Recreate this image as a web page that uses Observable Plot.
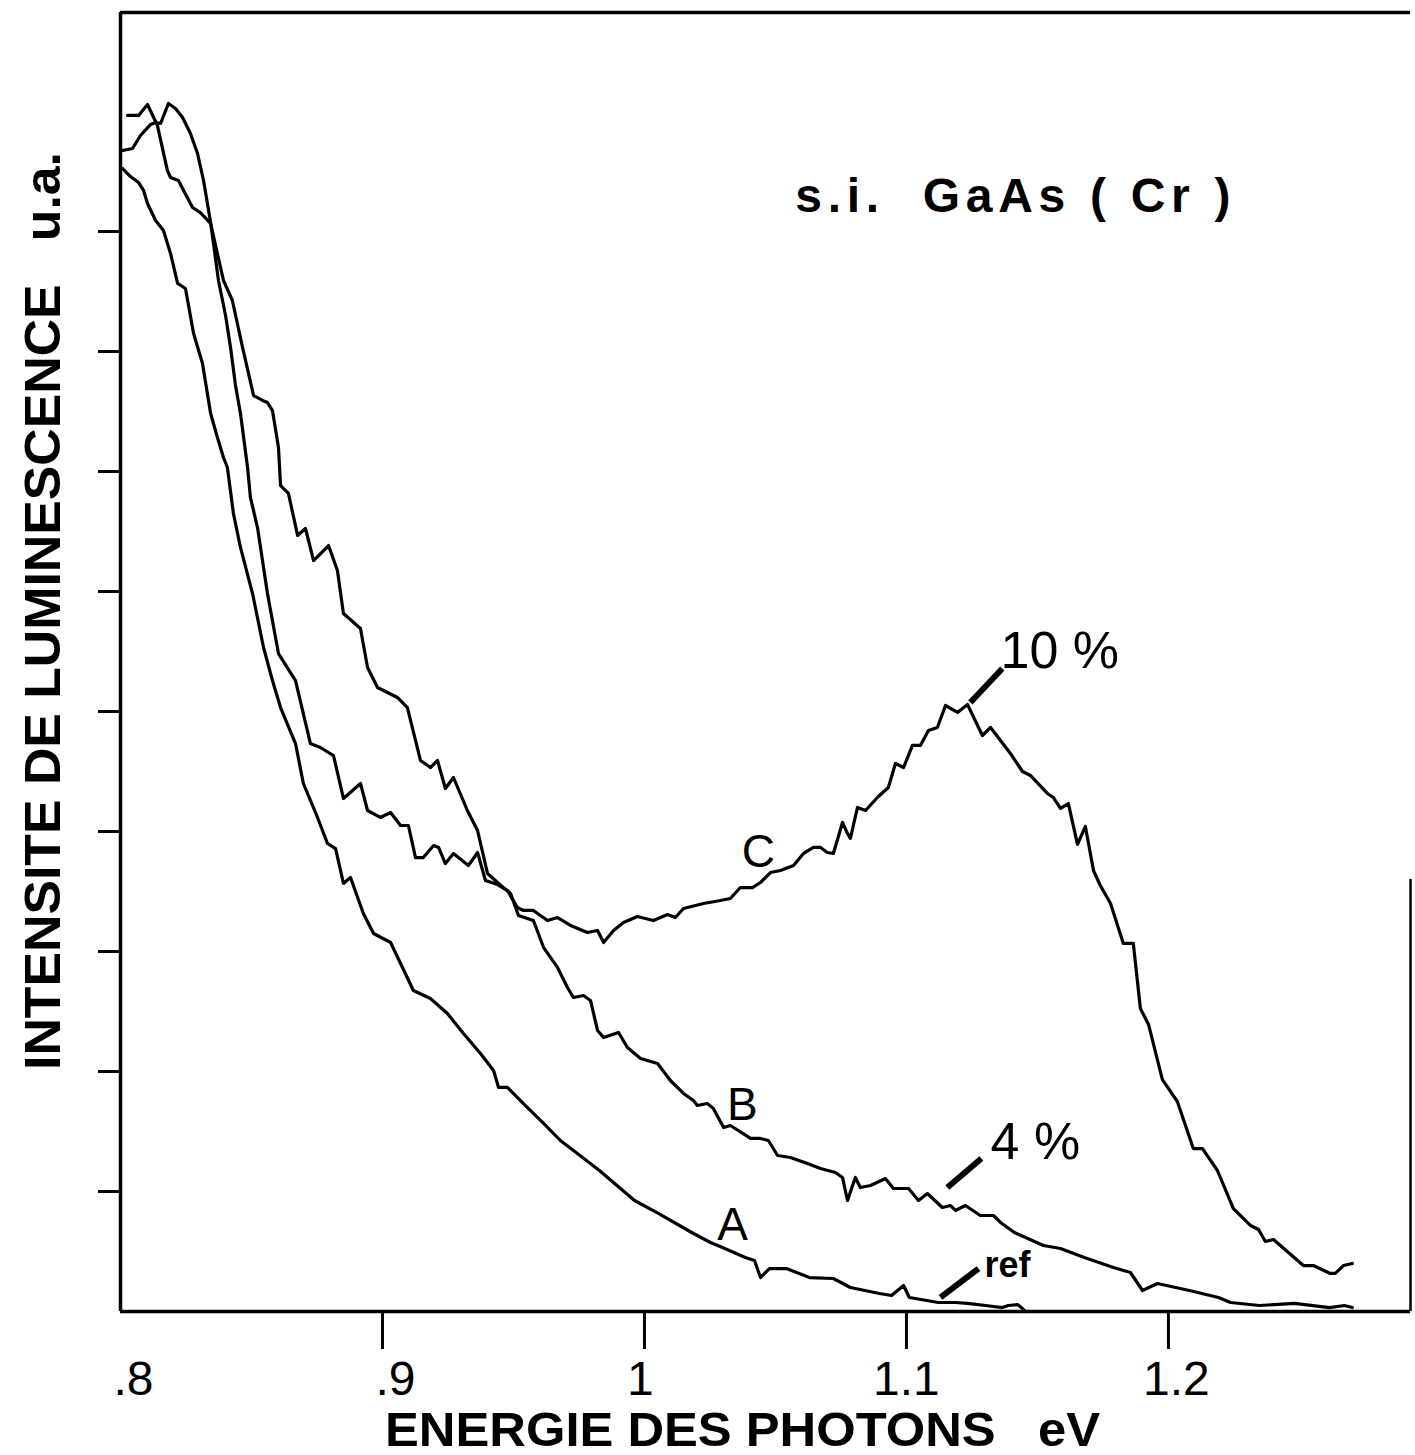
<!DOCTYPE html>
<html>
<head>
<meta charset="utf-8">
<script src="https://cdn.jsdelivr.net/npm/d3@7"></script>
<script src="https://cdn.jsdelivr.net/npm/@observablehq/plot@0.6"></script>
<style>
  html, body { margin: 0; padding: 0; background: #fff; }
  #chart svg { display: block; }
</style>
</head>
<body>
<div id="chart"></div>
<script>
// ---- Data (energy in eV, intensity in arbitrary units) ----
const energyA = [0.8008,0.8038,0.8069,0.8088,0.8103,0.8134,0.8164,0.8191,0.8218,0.8248,0.8279,0.8313,0.8344,0.8370,0.8393,0.8408,0.8431,0.8458,0.8504,0.8546,0.8580,0.8611,0.8668,0.8698,0.8752,0.8790,0.8821,0.8851,0.8878,0.8927,0.8966,0.9031,0.9069,0.9118,0.9183,0.9248,0.9309,0.9374,0.9424,0.9443,0.9477,0.9538,0.9615,0.9679,0.9744,0.9828,0.9962,1.0053,1.0187,1.0252,1.0298,1.0385,1.0420,1.0443,1.0477,1.0542,1.0630,1.0721,1.0786,1.0897,1.0943,1.0989,1.1011,1.1122,1.1187,1.1233,1.1302,1.1366,1.1389,1.1424,1.1443,1.1454];
const intensityA = [9.525,9.458,9.408,9.342,9.233,9.092,9.008,8.817,8.567,8.525,8.150,7.900,7.483,7.283,7.117,7.033,6.650,6.367,5.983,5.533,5.258,5.033,4.733,4.400,4.117,3.900,3.858,3.567,3.617,3.317,3.150,3.075,2.900,2.675,2.608,2.483,2.317,2.150,2.008,1.867,1.867,1.733,1.567,1.425,1.317,1.175,0.925,0.817,0.650,0.575,0.533,0.450,0.425,0.283,0.358,0.358,0.283,0.275,0.200,0.150,0.133,0.217,0.117,0.075,0.075,0.067,0.050,0.033,0.050,0.058,0.025,0.000];

const energyB = [0.8027,0.8069,0.8103,0.8141,0.8179,0.8191,0.8221,0.8275,0.8305,0.8344,0.8393,0.8427,0.8466,0.8508,0.8542,0.8561,0.8580,0.8603,0.8611,0.8641,0.8676,0.8706,0.8737,0.8794,0.8828,0.8851,0.8916,0.8943,0.8981,0.9057,0.9095,0.9145,0.9183,0.9210,0.9240,0.9271,0.9324,0.9363,0.9401,0.9439,0.9489,0.9519,0.9576,0.9615,0.9668,0.9706,0.9729,0.9767,0.9794,0.9821,0.9844,0.9901,0.9935,0.9985,1.0050,1.0099,1.0149,1.0187,1.0202,1.0240,1.0263,1.0302,1.0328,1.0405,1.0443,1.0473,1.0508,1.0557,1.0622,1.0672,1.0729,1.0756,1.0775,1.0805,1.0824,1.0863,1.0920,1.0950,1.1008,1.1046,1.1080,1.1137,1.1168,1.1187,1.1225,1.1282,1.1332,1.1359,1.1412,1.1523,1.1588,1.1679,1.1790,1.1855,1.1901,1.1958,1.2080,1.2191,1.2237,1.2347,1.2481,1.2615,1.2672,1.2702];
const intensityB = [9.967,9.967,10.058,9.883,9.508,9.450,9.425,9.200,9.158,9.067,8.592,8.425,8.033,7.633,7.592,7.575,7.508,7.200,6.883,6.817,6.467,6.525,6.258,6.383,6.175,5.817,5.692,5.367,5.200,5.117,5.033,4.592,4.533,4.592,4.358,4.450,4.175,4.008,3.650,3.575,3.483,3.300,3.258,3.033,2.867,2.700,2.617,2.633,2.592,2.342,2.283,2.325,2.200,2.108,2.067,1.925,1.817,1.758,1.717,1.733,1.692,1.533,1.550,1.442,1.442,1.425,1.300,1.283,1.233,1.192,1.158,1.117,0.925,1.117,1.033,1.050,1.108,1.025,1.025,0.925,0.983,0.867,0.883,0.842,0.883,0.800,0.800,0.742,0.658,0.550,0.525,0.450,0.367,0.325,0.175,0.233,0.175,0.117,0.075,0.050,0.067,0.033,0.050,0.033];

const energyC = [0.8008,0.8046,0.8076,0.8115,0.8134,0.8153,0.8183,0.8210,0.8237,0.8267,0.8294,0.8317,0.8344,0.8374,0.8401,0.8420,0.8439,0.8458,0.8485,0.8496,0.8523,0.8561,0.8603,0.8668,0.8725,0.8763,0.8813,0.8851,0.8916,0.8943,0.8992,0.9031,0.9069,0.9099,0.9126,0.9156,0.9195,0.9214,0.9240,0.9271,0.9328,0.9363,0.9393,0.9439,0.9477,0.9515,0.9538,0.9576,0.9630,0.9668,0.9718,0.9782,0.9821,0.9844,0.9882,0.9920,0.9973,1.0034,1.0088,1.0118,1.0149,1.0225,1.0290,1.0328,1.0366,1.0412,1.0443,1.0481,1.0519,1.0569,1.0607,1.0645,1.0672,1.0698,1.0721,1.0756,1.0775,1.0786,1.0813,1.0844,1.0889,1.0931,1.0958,1.0989,1.1023,1.1053,1.1084,1.1118,1.1149,1.1195,1.1233,1.1290,1.1321,1.1397,1.1443,1.1473,1.1538,1.1561,1.1588,1.1618,1.1653,1.1683,1.1714,1.1740,1.1779,1.1828,1.1866,1.1893,1.1924,1.1977,1.2034,1.2095,1.2130,1.2187,1.2248,1.2313,1.2344,1.2370,1.2401,1.2515,1.2553,1.2618,1.2637,1.2668,1.2702];
const intensityC = [9.675,9.692,9.800,9.892,9.908,9.900,10.067,10.025,9.950,9.817,9.650,9.425,9.075,8.592,8.300,8.033,7.717,7.483,7.033,6.783,6.533,5.983,5.483,5.258,4.733,4.700,4.633,4.275,4.400,4.175,4.117,4.158,4.050,4.050,3.783,3.783,3.883,3.867,3.733,3.817,3.717,3.825,3.592,3.558,3.508,3.367,3.342,3.342,3.258,3.283,3.217,3.158,3.175,3.075,3.175,3.242,3.292,3.258,3.308,3.283,3.358,3.400,3.425,3.442,3.533,3.533,3.575,3.658,3.675,3.717,3.817,3.867,3.867,3.825,3.817,4.075,3.983,3.942,4.200,4.175,4.283,4.367,4.567,4.533,4.717,4.717,4.842,4.867,5.050,4.992,5.058,4.800,4.867,4.650,4.500,4.467,4.317,4.283,4.192,4.233,3.892,4.042,3.675,3.550,3.400,3.067,3.067,2.525,2.392,1.933,1.750,1.358,1.358,1.175,0.858,0.717,0.683,0.583,0.600,0.383,0.383,0.317,0.317,0.383,0.400];

// axes
const xTicks = [0.8, 0.9, 1.0, 1.1, 1.2];
const xTickLabels = [".8", ".9", "1", "1.1", "1.2"];
const xTickMarks = [0.9, 1.0, 1.1, 1.2];
const yTicks = [1, 2, 3, 4, 5, 6, 7, 8, 9];
const xDomain = [0.8, 1.2924];
const yDomain = [0, 10.825];
const rightEdgeTop = [3.6]; // visible extent of the right border in the scan

// texts
const chartTitle = "s.i.\u00A0\u00A0GaAs\u00A0(\u00A0Cr\u00A0)";
const xTitle = "ENERGIE DES PHOTONS\u00A0\u00A0\u00A0eV";
const yTitle = "INTENSITE DE LUMINESCENCE\u00A0\u00A0\u00A0u.a.";
const titleE = [1.0576];
const titleI = [9.29];

// curve letters
const curveNames = ["A", "B", "C"];
const curveNameE = [1.0336, 1.0374, 1.0435];
const curveNameI = [0.717, 1.717, 3.825];

// percentage annotations with leader lines
const noteTexts = ["10 %", "4 %", "ref"];
const noteE = [1.1359, 1.1321, 1.1298];
const noteI = [5.50, 1.408, 0.383];
const leaderE1 = [1.1244, 1.1156, 1.1130];
const leaderI1 = [5.075, 1.033, 0.117];
const leaderE2 = [1.1366, 1.1286, 1.1275];
const leaderI2 = [5.358, 1.275, 0.358];

// ---- build tables ----
const toRows = (E, I, name) => E.map((e, i) => ({E: e, I: I[i], curve: name}));
const rows = [
  ...toRows(energyA, intensityA, "A"),
  ...toRows(energyB, intensityB, "B"),
  ...toRows(energyC, intensityC, "C")
];
const curveLabelRows = curveNames.map((t, i) => ({t, E: curveNameE[i], I: curveNameI[i]}));
const noteRows = noteTexts.map((t, i) => ({t, E: noteE[i], I: noteI[i], E1: leaderE1[i], I1: leaderI1[i], E2: leaderE2[i], I2: leaderI2[i]}));
const titleRows = [{t: chartTitle, E: titleE[0], I: titleI[0]}];
const tickLabel = new Map(xTicks.map((v, i) => [v, xTickLabels[i]]));

const FONT = "'Liberation Sans', Arial, Helvetica, sans-serif";
const labelAxis = (ticks, dx) => Plot.axisX(ticks, {tickSize: 0, tickPadding: 49, dx, tickFormat: d => tickLabel.get(d), fontSize: 48, label: null});

const svg = Plot.plot({
  width: 1415,
  height: 1455,
  marginLeft: 120,
  marginRight: 5,
  marginTop: 12,
  marginBottom: 144,
  x: {domain: xDomain, label: null},
  y: {domain: yDomain, label: null},
  style: {fontFamily: FONT, background: "#fff", color: "#000"},
  marks: [
    Plot.ruleY([yDomain[0], yDomain[1]], {stroke: "#000", strokeWidth: 3.5}),
    Plot.ruleX([xDomain[0]], {stroke: "#000", strokeWidth: 3.5}),
    Plot.ruleX([xDomain[1]], {y1: 0, y2: rightEdgeTop[0], stroke: "#000", strokeWidth: 2.5}),
    Plot.axisY(yTicks, {tickSize: 22, tickFormat: () => "", strokeWidth: 3, label: null}),
    Plot.axisX(xTickMarks, {tickSize: 38, tickFormat: () => "", strokeWidth: 3, label: null}),
    labelAxis([0.8, 0.9], 13),
    labelAxis([1.0], -4),
    labelAxis([1.1], 0),
    labelAxis([1.2], 8),
    Plot.line(rows, {x: "E", y: "I", z: "curve", stroke: "#000", strokeWidth: 3.2, strokeLinejoin: "round", curve: "linear"}),
    Plot.text(curveLabelRows, {x: "E", y: "I", text: "t", fontSize: 46, textAnchor: "middle", lineAnchor: "middle", fill: "#000"}),
    Plot.link(noteRows, {x1: "E1", y1: "I1", x2: "E2", y2: "I2", stroke: "#000", strokeWidth: 6}),
    Plot.text(noteRows.filter(d => d.t !== "ref"), {x: "E", y: "I", text: "t", fontSize: 52, textAnchor: "start", lineAnchor: "middle", fill: "#000"}),
    Plot.text(noteRows.filter(d => d.t === "ref"), {x: "E", y: "I", text: "t", fontSize: 36, fontWeight: "bold", textAnchor: "start", lineAnchor: "middle", fill: "#000"}),
    Plot.text(titleRows, {x: "E", y: "I", text: "t", fontSize: 48, fontWeight: "bold", textAnchor: "start", lineAnchor: "middle", fill: "#000"}),
    Plot.text([xTitle], {text: d => d, frameAnchor: "bottom", dx: -23, dy: 119, fontSize: 48, fontWeight: "bold", textAnchor: "middle", lineAnchor: "middle", fill: "#000"}),
    Plot.text([yTitle], {text: d => d, frameAnchor: "left", dx: -77, dy: -51, rotate: -90, fontSize: 50, fontWeight: "bold", textAnchor: "middle", lineAnchor: "middle", fill: "#000"})
  ]
});

// condense the bold titles like the original typesetting
d3.select(svg).selectAll("text").each(function () {
  const t = this.textContent;
  if (t === yTitle) d3.select(this).attr("textLength", 918).attr("lengthAdjust", "spacingAndGlyphs");
  if (t === xTitle) d3.select(this).attr("textLength", 715).attr("lengthAdjust", "spacingAndGlyphs");
  if (t === chartTitle) d3.select(this).attr("textLength", 435).attr("lengthAdjust", "spacing");
});

document.getElementById("chart").appendChild(svg);
</script>
</body>
</html>
